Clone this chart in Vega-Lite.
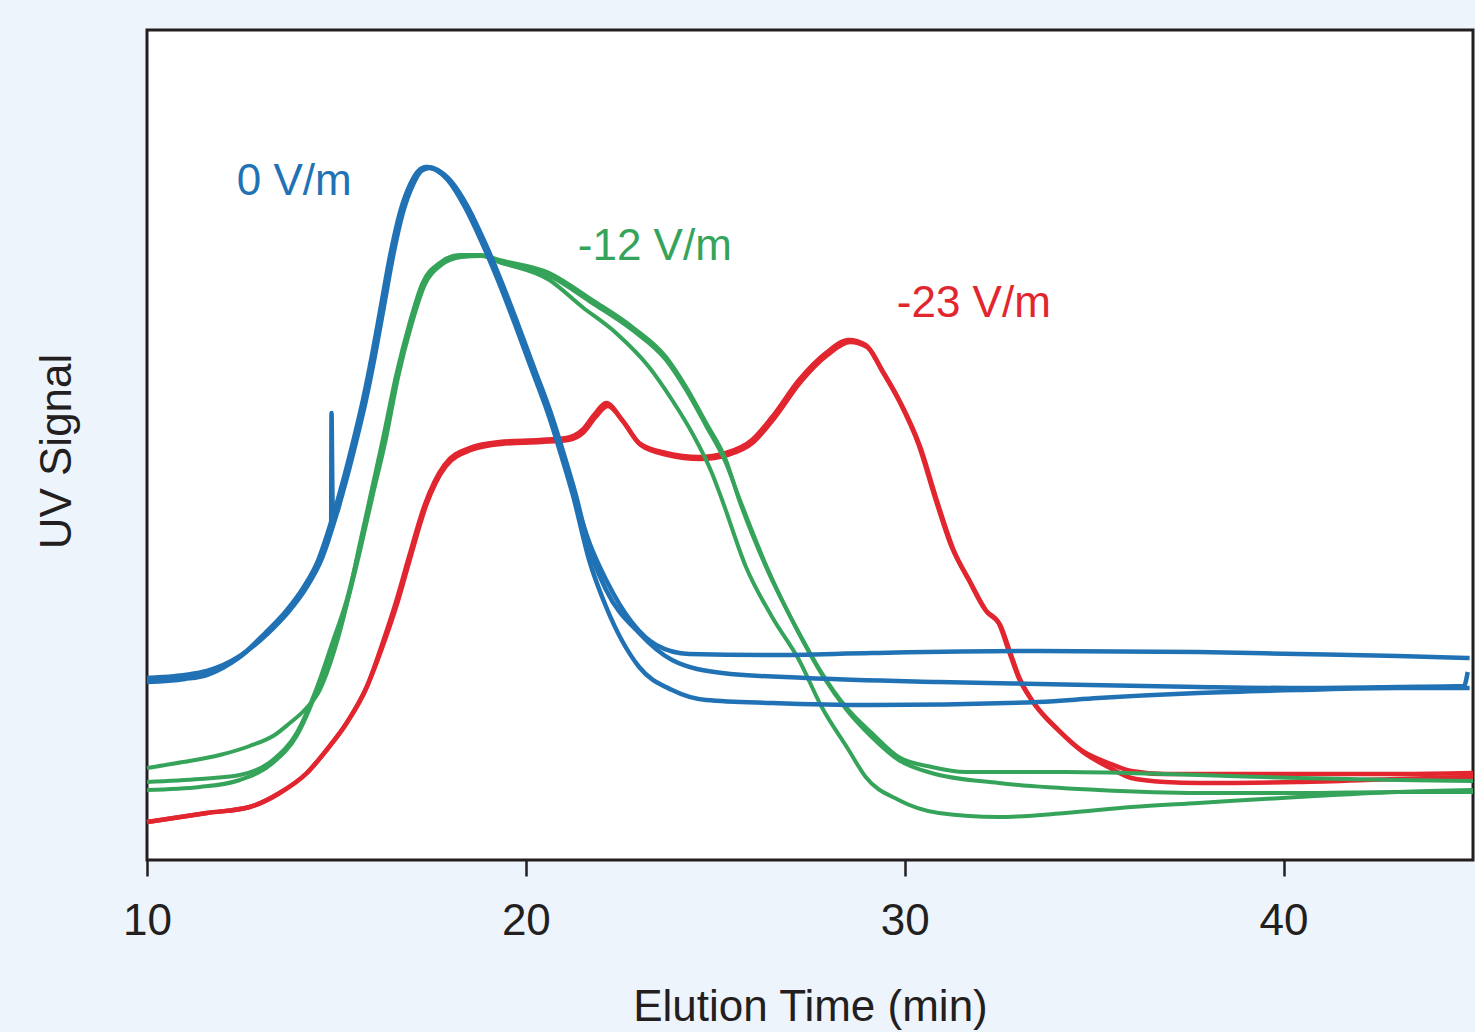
{
"$schema": "https://vega.github.io/schema/vega-lite/v6.json",
"width": 1326, "height": 830,
"autosize": {"type": "none"},
"padding": {"left": 147, "top": 30, "right": 2, "bottom": 172},
"background": "#eef4fb",
"config": {"view": {"fill": "white", "stroke": "#231f20", "strokeWidth": 3}, "font": "Liberation Sans"},
"datasets": {
"traces": [
{"series":"0 V/m","trace":"b1","time":10.00,"signal":18.0},{"series":"0 V/m","trace":"b1","time":11.00,"signal":18.3},{"series":"0 V/m","trace":"b1","time":11.58,"signal":18.7},{"series":"0 V/m","trace":"b1","time":12.45,"signal":20.3},{"series":"0 V/m","trace":"b1","time":13.16,"signal":22.7},{"series":"0 V/m","trace":"b1","time":13.69,"signal":24.8},{"series":"0 V/m","trace":"b1","time":14.16,"signal":27.2},{"series":"0 V/m","trace":"b1","time":14.56,"signal":30.0},{"series":"0 V/m","trace":"b1","time":14.86,"signal":33.3},{"series":"0 V/m","trace":"b1","time":14.87,"signal":44.7},{"series":"0 V/m","trace":"b1","time":14.90,"signal":35.5},{"series":"0 V/m","trace":"b1","time":14.95,"signal":34.4},{"series":"0 V/m","trace":"b1","time":15.22,"signal":38.0},{"series":"0 V/m","trace":"b1","time":15.51,"signal":42.3},{"series":"0 V/m","trace":"b1","time":15.74,"signal":46.0},{"series":"0 V/m","trace":"b1","time":15.98,"signal":50.5},{"series":"0 V/m","trace":"b1","time":16.22,"signal":55.5},{"series":"0 V/m","trace":"b1","time":16.46,"signal":60.5},{"series":"0 V/m","trace":"b1","time":16.72,"signal":64.8},{"series":"0 V/m","trace":"b1","time":16.99,"signal":67.6},{"series":"0 V/m","trace":"b1","time":17.20,"signal":68.9},{"series":"0 V/m","trace":"b1","time":17.41,"signal":69.3},{"series":"0 V/m","trace":"b1","time":17.67,"signal":69.0},{"series":"0 V/m","trace":"b1","time":17.98,"signal":68.0},{"series":"0 V/m","trace":"b1","time":18.43,"signal":65.3},{"series":"0 V/m","trace":"b1","time":18.85,"signal":62.0},{"series":"0 V/m","trace":"b1","time":19.30,"signal":58.0},{"series":"0 V/m","trace":"b1","time":19.74,"signal":53.7},{"series":"0 V/m","trace":"b1","time":20.17,"signal":49.3},{"series":"0 V/m","trace":"b1","time":20.62,"signal":44.7},{"series":"0 V/m","trace":"b1","time":21.01,"signal":40.0},{"series":"0 V/m","trace":"b1","time":21.28,"signal":36.5},{"series":"0 V/m","trace":"b1","time":21.67,"signal":31.8},{"series":"0 V/m","trace":"b1","time":22.12,"signal":28.0},{"series":"0 V/m","trace":"b1","time":22.81,"signal":23.7},{"series":"0 V/m","trace":"b1","time":23.44,"signal":21.5},{"series":"0 V/m","trace":"b1","time":24.31,"signal":20.6},{"series":"0 V/m","trace":"b1","time":26.50,"signal":20.5},{"series":"0 V/m","trace":"b1","time":29.13,"signal":20.7},{"series":"0 V/m","trace":"b1","time":33.53,"signal":20.9},{"series":"0 V/m","trace":"b1","time":37.75,"signal":20.8},{"series":"0 V/m","trace":"b1","time":40.38,"signal":20.6},{"series":"0 V/m","trace":"b1","time":43.02,"signal":20.4},{"series":"0 V/m","trace":"b1","time":44.91,"signal":20.2},

{"series":"0 V/m","trace":"b2","time":10.00,"signal":18.2},{"series":"0 V/m","trace":"b2","time":11.00,"signal":18.5},{"series":"0 V/m","trace":"b2","time":11.58,"signal":18.9},{"series":"0 V/m","trace":"b2","time":12.45,"signal":20.4},{"series":"0 V/m","trace":"b2","time":13.20,"signal":22.7},{"series":"0 V/m","trace":"b2","time":13.73,"signal":24.8},{"series":"0 V/m","trace":"b2","time":14.20,"signal":27.2},{"series":"0 V/m","trace":"b2","time":14.60,"signal":30.0},{"series":"0 V/m","trace":"b2","time":14.94,"signal":33.8},{"series":"0 V/m","trace":"b2","time":15.26,"signal":38.0},{"series":"0 V/m","trace":"b2","time":15.55,"signal":42.3},{"series":"0 V/m","trace":"b2","time":15.78,"signal":46.0},{"series":"0 V/m","trace":"b2","time":16.02,"signal":50.5},{"series":"0 V/m","trace":"b2","time":16.26,"signal":55.5},{"series":"0 V/m","trace":"b2","time":16.50,"signal":60.5},{"series":"0 V/m","trace":"b2","time":16.76,"signal":64.8},{"series":"0 V/m","trace":"b2","time":17.03,"signal":67.6},{"series":"0 V/m","trace":"b2","time":17.24,"signal":68.9},{"series":"0 V/m","trace":"b2","time":17.45,"signal":69.2},{"series":"0 V/m","trace":"b2","time":17.71,"signal":68.9},{"series":"0 V/m","trace":"b2","time":18.02,"signal":67.9},{"series":"0 V/m","trace":"b2","time":18.47,"signal":65.3},{"series":"0 V/m","trace":"b2","time":18.89,"signal":62.0},{"series":"0 V/m","trace":"b2","time":19.34,"signal":58.0},{"series":"0 V/m","trace":"b2","time":19.78,"signal":53.7},{"series":"0 V/m","trace":"b2","time":20.21,"signal":49.3},{"series":"0 V/m","trace":"b2","time":20.66,"signal":44.7},{"series":"0 V/m","trace":"b2","time":21.05,"signal":40.0},{"series":"0 V/m","trace":"b2","time":21.32,"signal":36.5},{"series":"0 V/m","trace":"b2","time":21.67,"signal":31.2},{"series":"0 V/m","trace":"b2","time":22.12,"signal":27.0},{"series":"0 V/m","trace":"b2","time":22.99,"signal":22.7},{"series":"0 V/m","trace":"b2","time":23.86,"signal":20.0},{"series":"0 V/m","trace":"b2","time":25.18,"signal":18.7},{"series":"0 V/m","trace":"b2","time":27.39,"signal":18.2},{"series":"0 V/m","trace":"b2","time":30.90,"signal":17.8},{"series":"0 V/m","trace":"b2","time":33.53,"signal":17.6},{"series":"0 V/m","trace":"b2","time":37.75,"signal":17.3},{"series":"0 V/m","trace":"b2","time":40.38,"signal":17.2},{"series":"0 V/m","trace":"b2","time":43.02,"signal":17.3},{"series":"0 V/m","trace":"b2","time":44.76,"signal":17.4},{"series":"0 V/m","trace":"b2","time":44.86,"signal":18.8},

{"series":"0 V/m","trace":"b3","time":10.00,"signal":17.8},{"series":"0 V/m","trace":"b3","time":11.00,"signal":18.1},{"series":"0 V/m","trace":"b3","time":11.58,"signal":18.5},{"series":"0 V/m","trace":"b3","time":12.41,"signal":20.2},{"series":"0 V/m","trace":"b3","time":13.12,"signal":22.7},{"series":"0 V/m","trace":"b3","time":13.65,"signal":24.8},{"series":"0 V/m","trace":"b3","time":14.12,"signal":27.2},{"series":"0 V/m","trace":"b3","time":14.52,"signal":30.0},{"series":"0 V/m","trace":"b3","time":14.86,"signal":33.8},{"series":"0 V/m","trace":"b3","time":15.18,"signal":38.0},{"series":"0 V/m","trace":"b3","time":15.47,"signal":42.3},{"series":"0 V/m","trace":"b3","time":15.70,"signal":46.0},{"series":"0 V/m","trace":"b3","time":15.94,"signal":50.5},{"series":"0 V/m","trace":"b3","time":16.18,"signal":55.5},{"series":"0 V/m","trace":"b3","time":16.42,"signal":60.5},{"series":"0 V/m","trace":"b3","time":16.68,"signal":64.8},{"series":"0 V/m","trace":"b3","time":16.95,"signal":67.6},{"series":"0 V/m","trace":"b3","time":17.16,"signal":68.9},{"series":"0 V/m","trace":"b3","time":17.37,"signal":69.3},{"series":"0 V/m","trace":"b3","time":17.63,"signal":69.0},{"series":"0 V/m","trace":"b3","time":17.94,"signal":68.0},{"series":"0 V/m","trace":"b3","time":18.39,"signal":65.3},{"series":"0 V/m","trace":"b3","time":18.81,"signal":62.0},{"series":"0 V/m","trace":"b3","time":19.26,"signal":58.0},{"series":"0 V/m","trace":"b3","time":19.70,"signal":53.7},{"series":"0 V/m","trace":"b3","time":20.13,"signal":49.3},{"series":"0 V/m","trace":"b3","time":20.58,"signal":44.7},{"series":"0 V/m","trace":"b3","time":20.97,"signal":40.0},{"series":"0 V/m","trace":"b3","time":21.24,"signal":36.5},{"series":"0 V/m","trace":"b3","time":21.67,"signal":30.0},{"series":"0 V/m","trace":"b3","time":22.12,"signal":25.3},{"series":"0 V/m","trace":"b3","time":22.99,"signal":19.3},{"series":"0 V/m","trace":"b3","time":23.86,"signal":17.0},{"series":"0 V/m","trace":"b3","time":24.76,"signal":16.0},{"series":"0 V/m","trace":"b3","time":26.50,"signal":15.7},{"series":"0 V/m","trace":"b3","time":29.13,"signal":15.5},{"series":"0 V/m","trace":"b3","time":33.53,"signal":15.8},{"series":"0 V/m","trace":"b3","time":35.11,"signal":16.2},{"series":"0 V/m","trace":"b3","time":37.75,"signal":16.7},{"series":"0 V/m","trace":"b3","time":40.38,"signal":17.0},{"series":"0 V/m","trace":"b3","time":43.02,"signal":17.2},{"series":"0 V/m","trace":"b3","time":44.91,"signal":17.2},

{"series":"-12 V/m","trace":"g1","time":10.00,"signal":9.2},{"series":"-12 V/m","trace":"g1","time":10.95,"signal":9.8},{"series":"-12 V/m","trace":"g1","time":11.92,"signal":10.5},{"series":"-12 V/m","trace":"g1","time":12.71,"signal":11.4},{"series":"-12 V/m","trace":"g1","time":13.37,"signal":12.5},{"series":"-12 V/m","trace":"g1","time":13.77,"signal":13.7},{"series":"-12 V/m","trace":"g1","time":14.16,"signal":15.0},{"series":"-12 V/m","trace":"g1","time":14.56,"signal":17.0},{"series":"-12 V/m","trace":"g1","time":14.95,"signal":21.0},{"series":"-12 V/m","trace":"g1","time":15.27,"signal":25.5},{"series":"-12 V/m","trace":"g1","time":15.61,"signal":31.5},{"series":"-12 V/m","trace":"g1","time":15.93,"signal":37.0},{"series":"-12 V/m","trace":"g1","time":16.22,"signal":42.0},{"series":"-12 V/m","trace":"g1","time":16.59,"signal":48.7},{"series":"-12 V/m","trace":"g1","time":16.93,"signal":53.7},{"series":"-12 V/m","trace":"g1","time":17.27,"signal":57.7},{"series":"-12 V/m","trace":"g1","time":17.72,"signal":59.7},{"series":"-12 V/m","trace":"g1","time":18.25,"signal":60.5},{"series":"-12 V/m","trace":"g1","time":18.77,"signal":60.5},{"series":"-12 V/m","trace":"g1","time":19.30,"signal":59.8},{"series":"-12 V/m","trace":"g1","time":20.62,"signal":58.0},{"series":"-12 V/m","trace":"g1","time":21.49,"signal":55.3},{"series":"-12 V/m","trace":"g1","time":22.38,"signal":52.7},{"series":"-12 V/m","trace":"g1","time":23.25,"signal":49.3},{"series":"-12 V/m","trace":"g1","time":23.86,"signal":46.0},{"series":"-12 V/m","trace":"g1","time":24.39,"signal":42.7},{"series":"-12 V/m","trace":"g1","time":24.91,"signal":38.7},{"series":"-12 V/m","trace":"g1","time":25.18,"signal":36.0},{"series":"-12 V/m","trace":"g1","time":25.81,"signal":29.3},{"series":"-12 V/m","trace":"g1","time":26.50,"signal":24.3},{"series":"-12 V/m","trace":"g1","time":27.21,"signal":20.0},{"series":"-12 V/m","trace":"g1","time":27.81,"signal":15.3},{"series":"-12 V/m","trace":"g1","time":28.52,"signal":11.0},{"series":"-12 V/m","trace":"g1","time":28.97,"signal":8.3},{"series":"-12 V/m","trace":"g1","time":29.84,"signal":6.0},{"series":"-12 V/m","trace":"g1","time":30.90,"signal":4.7},{"series":"-12 V/m","trace":"g1","time":32.48,"signal":4.3},{"series":"-12 V/m","trace":"g1","time":34.24,"signal":4.7},{"series":"-12 V/m","trace":"g1","time":35.98,"signal":5.3},{"series":"-12 V/m","trace":"g1","time":37.75,"signal":5.7},{"series":"-12 V/m","trace":"g1","time":40.38,"signal":6.3},{"series":"-12 V/m","trace":"g1","time":43.02,"signal":6.8},{"series":"-12 V/m","trace":"g1","time":45.00,"signal":7.0},

{"series":"-12 V/m","trace":"g2","time":10.00,"signal":7.8},{"series":"-12 V/m","trace":"g2","time":11.40,"signal":8.1},{"series":"-12 V/m","trace":"g2","time":12.45,"signal":8.5},{"series":"-12 V/m","trace":"g2","time":13.32,"signal":10.0},{"series":"-12 V/m","trace":"g2","time":13.95,"signal":12.7},{"series":"-12 V/m","trace":"g2","time":14.48,"signal":17.2},{"series":"-12 V/m","trace":"g2","time":14.90,"signal":21.8},{"series":"-12 V/m","trace":"g2","time":15.27,"signal":26.0},{"series":"-12 V/m","trace":"g2","time":15.61,"signal":31.2},{"series":"-12 V/m","trace":"g2","time":15.93,"signal":36.5},{"series":"-12 V/m","trace":"g2","time":16.27,"signal":42.0},{"series":"-12 V/m","trace":"g2","time":16.61,"signal":48.5},{"series":"-12 V/m","trace":"g2","time":16.96,"signal":53.5},{"series":"-12 V/m","trace":"g2","time":17.30,"signal":57.5},{"series":"-12 V/m","trace":"g2","time":17.75,"signal":59.6},{"series":"-12 V/m","trace":"g2","time":18.27,"signal":60.4},{"series":"-12 V/m","trace":"g2","time":18.80,"signal":60.5},{"series":"-12 V/m","trace":"g2","time":19.30,"signal":60.0},{"series":"-12 V/m","trace":"g2","time":20.62,"signal":58.7},{"series":"-12 V/m","trace":"g2","time":21.75,"signal":56.0},{"series":"-12 V/m","trace":"g2","time":22.81,"signal":53.3},{"series":"-12 V/m","trace":"g2","time":23.70,"signal":50.3},{"series":"-12 V/m","trace":"g2","time":24.23,"signal":47.3},{"series":"-12 V/m","trace":"g2","time":24.76,"signal":43.7},{"series":"-12 V/m","trace":"g2","time":25.28,"signal":40.0},{"series":"-12 V/m","trace":"g2","time":25.63,"signal":36.0},{"series":"-12 V/m","trace":"g2","time":26.34,"signal":29.3},{"series":"-12 V/m","trace":"g2","time":27.21,"signal":22.7},{"series":"-12 V/m","trace":"g2","time":27.81,"signal":18.7},{"series":"-12 V/m","trace":"g2","time":28.45,"signal":15.3},{"series":"-12 V/m","trace":"g2","time":29.13,"signal":12.7},{"series":"-12 V/m","trace":"g2","time":29.84,"signal":10.3},{"series":"-12 V/m","trace":"g2","time":30.71,"signal":9.3},{"series":"-12 V/m","trace":"g2","time":31.61,"signal":8.8},{"series":"-12 V/m","trace":"g2","time":34.24,"signal":8.8},{"series":"-12 V/m","trace":"g2","time":37.75,"signal":8.5},{"series":"-12 V/m","trace":"g2","time":40.38,"signal":8.2},{"series":"-12 V/m","trace":"g2","time":43.02,"signal":8.0},{"series":"-12 V/m","trace":"g2","time":45.00,"signal":7.9},

{"series":"-12 V/m","trace":"g3","time":10.00,"signal":7.0},{"series":"-12 V/m","trace":"g3","time":11.40,"signal":7.3},{"series":"-12 V/m","trace":"g3","time":12.45,"signal":8.0},{"series":"-12 V/m","trace":"g3","time":13.32,"signal":9.7},{"series":"-12 V/m","trace":"g3","time":13.95,"signal":12.4},{"series":"-12 V/m","trace":"g3","time":14.48,"signal":16.9},{"series":"-12 V/m","trace":"g3","time":14.90,"signal":21.5},{"series":"-12 V/m","trace":"g3","time":15.30,"signal":26.0},{"series":"-12 V/m","trace":"g3","time":15.64,"signal":31.2},{"series":"-12 V/m","trace":"g3","time":15.96,"signal":36.5},{"series":"-12 V/m","trace":"g3","time":16.30,"signal":42.0},{"series":"-12 V/m","trace":"g3","time":16.64,"signal":48.5},{"series":"-12 V/m","trace":"g3","time":16.98,"signal":53.5},{"series":"-12 V/m","trace":"g3","time":17.33,"signal":57.5},{"series":"-12 V/m","trace":"g3","time":17.77,"signal":59.5},{"series":"-12 V/m","trace":"g3","time":18.30,"signal":60.3},{"series":"-12 V/m","trace":"g3","time":18.83,"signal":60.4},{"series":"-12 V/m","trace":"g3","time":19.30,"signal":59.8},{"series":"-12 V/m","trace":"g3","time":20.62,"signal":58.4},{"series":"-12 V/m","trace":"g3","time":21.75,"signal":55.7},{"series":"-12 V/m","trace":"g3","time":22.81,"signal":53.0},{"series":"-12 V/m","trace":"g3","time":23.70,"signal":50.0},{"series":"-12 V/m","trace":"g3","time":24.23,"signal":47.0},{"series":"-12 V/m","trace":"g3","time":24.76,"signal":43.4},{"series":"-12 V/m","trace":"g3","time":25.28,"signal":39.7},{"series":"-12 V/m","trace":"g3","time":25.65,"signal":36.0},{"series":"-12 V/m","trace":"g3","time":26.36,"signal":29.3},{"series":"-12 V/m","trace":"g3","time":27.23,"signal":22.5},{"series":"-12 V/m","trace":"g3","time":27.84,"signal":18.4},{"series":"-12 V/m","trace":"g3","time":28.47,"signal":15.0},{"series":"-12 V/m","trace":"g3","time":29.13,"signal":12.3},{"series":"-12 V/m","trace":"g3","time":29.84,"signal":10.0},{"series":"-12 V/m","trace":"g3","time":30.71,"signal":8.7},{"series":"-12 V/m","trace":"g3","time":32.48,"signal":7.7},{"series":"-12 V/m","trace":"g3","time":35.11,"signal":7.0},{"series":"-12 V/m","trace":"g3","time":37.75,"signal":6.7},{"series":"-12 V/m","trace":"g3","time":40.38,"signal":6.7},{"series":"-12 V/m","trace":"g3","time":43.02,"signal":6.8},{"series":"-12 V/m","trace":"g3","time":45.00,"signal":6.8},

{"series":"-23 V/m","trace":"r1","time":10.00,"signal":3.8},{"series":"-23 V/m","trace":"r1","time":11.58,"signal":4.7},{"series":"-23 V/m","trace":"r1","time":12.71,"signal":5.3},{"series":"-23 V/m","trace":"r1","time":13.50,"signal":6.7},{"series":"-23 V/m","trace":"r1","time":14.22,"signal":8.7},{"series":"-23 V/m","trace":"r1","time":14.74,"signal":11.0},{"series":"-23 V/m","trace":"r1","time":15.27,"signal":13.7},{"series":"-23 V/m","trace":"r1","time":15.80,"signal":17.3},{"series":"-23 V/m","trace":"r1","time":16.22,"signal":21.7},{"series":"-23 V/m","trace":"r1","time":16.59,"signal":26.0},{"series":"-23 V/m","trace":"r1","time":16.93,"signal":30.5},{"series":"-23 V/m","trace":"r1","time":17.33,"signal":35.5},{"series":"-23 V/m","trace":"r1","time":17.85,"signal":39.5},{"series":"-23 V/m","trace":"r1","time":18.51,"signal":41.2},{"series":"-23 V/m","trace":"r1","time":19.30,"signal":41.8},{"series":"-23 V/m","trace":"r1","time":20.36,"signal":42.0},{"series":"-23 V/m","trace":"r1","time":21.07,"signal":42.2},{"series":"-23 V/m","trace":"r1","time":21.49,"signal":43.0},{"series":"-23 V/m","trace":"r1","time":21.80,"signal":44.5},{"series":"-23 V/m","trace":"r1","time":22.12,"signal":45.7},{"series":"-23 V/m","trace":"r1","time":22.54,"signal":44.0},{"series":"-23 V/m","trace":"r1","time":22.99,"signal":41.7},{"series":"-23 V/m","trace":"r1","time":23.70,"signal":40.7},{"series":"-23 V/m","trace":"r1","time":24.57,"signal":40.3},{"series":"-23 V/m","trace":"r1","time":25.28,"signal":40.7},{"series":"-23 V/m","trace":"r1","time":25.97,"signal":42.0},{"series":"-23 V/m","trace":"r1","time":26.50,"signal":44.3},{"series":"-23 V/m","trace":"r1","time":27.21,"signal":48.0},{"series":"-23 V/m","trace":"r1","time":27.92,"signal":50.7},{"series":"-23 V/m","trace":"r1","time":28.52,"signal":52.0},{"series":"-23 V/m","trace":"r1","time":28.97,"signal":51.5},{"series":"-23 V/m","trace":"r1","time":29.39,"signal":49.0},{"series":"-23 V/m","trace":"r1","time":29.84,"signal":46.0},{"series":"-23 V/m","trace":"r1","time":30.37,"signal":41.5},{"series":"-23 V/m","trace":"r1","time":30.82,"signal":36.0},{"series":"-23 V/m","trace":"r1","time":31.24,"signal":31.3},{"series":"-23 V/m","trace":"r1","time":31.69,"signal":28.0},{"series":"-23 V/m","trace":"r1","time":32.13,"signal":25.0},{"series":"-23 V/m","trace":"r1","time":32.48,"signal":23.7},{"series":"-23 V/m","trace":"r1","time":32.74,"signal":21.0},{"series":"-23 V/m","trace":"r1","time":33.00,"signal":18.3},{"series":"-23 V/m","trace":"r1","time":33.35,"signal":16.0},{"series":"-23 V/m","trace":"r1","time":34.06,"signal":13.0},{"series":"-23 V/m","trace":"r1","time":34.66,"signal":11.0},{"series":"-23 V/m","trace":"r1","time":35.38,"signal":9.7},{"series":"-23 V/m","trace":"r1","time":35.98,"signal":8.9},{"series":"-23 V/m","trace":"r1","time":36.88,"signal":8.6},{"series":"-23 V/m","trace":"r1","time":37.75,"signal":8.6},{"series":"-23 V/m","trace":"r1","time":40.38,"signal":8.6},{"series":"-23 V/m","trace":"r1","time":43.02,"signal":8.6},{"series":"-23 V/m","trace":"r1","time":45.00,"signal":8.7},

{"series":"-23 V/m","trace":"r2","time":10.00,"signal":3.8},{"series":"-23 V/m","trace":"r2","time":11.58,"signal":4.7},{"series":"-23 V/m","trace":"r2","time":12.71,"signal":5.3},{"series":"-23 V/m","trace":"r2","time":13.50,"signal":6.7},{"series":"-23 V/m","trace":"r2","time":14.22,"signal":8.7},{"series":"-23 V/m","trace":"r2","time":14.74,"signal":11.0},{"series":"-23 V/m","trace":"r2","time":15.27,"signal":13.7},{"series":"-23 V/m","trace":"r2","time":15.80,"signal":17.3},{"series":"-23 V/m","trace":"r2","time":16.25,"signal":21.7},{"series":"-23 V/m","trace":"r2","time":16.63,"signal":26.0},{"series":"-23 V/m","trace":"r2","time":16.97,"signal":30.5},{"series":"-23 V/m","trace":"r2","time":17.37,"signal":35.5},{"series":"-23 V/m","trace":"r2","time":17.89,"signal":39.4},{"series":"-23 V/m","trace":"r2","time":18.55,"signal":41.0},{"series":"-23 V/m","trace":"r2","time":19.34,"signal":41.6},{"series":"-23 V/m","trace":"r2","time":20.40,"signal":41.8},{"series":"-23 V/m","trace":"r2","time":21.11,"signal":42.0},{"series":"-23 V/m","trace":"r2","time":21.53,"signal":42.8},{"series":"-23 V/m","trace":"r2","time":21.84,"signal":44.3},{"series":"-23 V/m","trace":"r2","time":22.16,"signal":45.4},{"series":"-23 V/m","trace":"r2","time":22.58,"signal":43.8},{"series":"-23 V/m","trace":"r2","time":23.03,"signal":41.5},{"series":"-23 V/m","trace":"r2","time":23.74,"signal":40.5},{"series":"-23 V/m","trace":"r2","time":24.61,"signal":40.1},{"series":"-23 V/m","trace":"r2","time":25.32,"signal":40.5},{"series":"-23 V/m","trace":"r2","time":26.01,"signal":41.8},{"series":"-23 V/m","trace":"r2","time":26.54,"signal":44.1},{"series":"-23 V/m","trace":"r2","time":27.25,"signal":47.8},{"series":"-23 V/m","trace":"r2","time":27.96,"signal":50.5},{"series":"-23 V/m","trace":"r2","time":28.56,"signal":51.8},{"series":"-23 V/m","trace":"r2","time":29.01,"signal":51.3},{"series":"-23 V/m","trace":"r2","time":29.43,"signal":48.8},{"series":"-23 V/m","trace":"r2","time":29.88,"signal":45.8},{"series":"-23 V/m","trace":"r2","time":30.41,"signal":41.3},{"series":"-23 V/m","trace":"r2","time":30.86,"signal":35.8},{"series":"-23 V/m","trace":"r2","time":31.28,"signal":31.1},{"series":"-23 V/m","trace":"r2","time":31.73,"signal":27.8},{"series":"-23 V/m","trace":"r2","time":32.17,"signal":24.8},{"series":"-23 V/m","trace":"r2","time":32.52,"signal":23.5},{"series":"-23 V/m","trace":"r2","time":32.78,"signal":20.8},{"series":"-23 V/m","trace":"r2","time":33.04,"signal":18.1},{"series":"-23 V/m","trace":"r2","time":33.39,"signal":15.8},{"series":"-23 V/m","trace":"r2","time":34.10,"signal":12.8},{"series":"-23 V/m","trace":"r2","time":34.70,"signal":10.8},{"series":"-23 V/m","trace":"r2","time":35.42,"signal":9.2},{"series":"-23 V/m","trace":"r2","time":35.98,"signal":8.2},{"series":"-23 V/m","trace":"r2","time":36.88,"signal":7.8},{"series":"-23 V/m","trace":"r2","time":37.75,"signal":7.7},{"series":"-23 V/m","trace":"r2","time":40.38,"signal":7.8},{"series":"-23 V/m","trace":"r2","time":43.02,"signal":8.1},{"series":"-23 V/m","trace":"r2","time":45.00,"signal":8.3}
],
"labels": [
{"series":"0 V/m","time":12.37,"signal":66.5},
{"series":"-12 V/m","time":21.37,"signal":60.0},
{"series":"-23 V/m","time":29.79,"signal":54.3}
]
},
"encoding": {
"x": {"field": "time", "type": "quantitative",
 "scale": {"domain": [10, 45], "nice": false, "zero": false},
 "axis": {"values": [10, 20, 30, 40], "title": "Elution Time (min)", "domain": false, "grid": false,
  "ticks": true, "tickSize": 16, "tickWidth": 2.5, "tickColor": "#231f20", "labelFlush": false,
  "labelFontSize": 44, "labelColor": "#231f20", "labelPadding": 23, "labelFont": "Liberation Sans",
  "titleFontSize": 44, "titleFontWeight": "normal", "titleColor": "#231f20", "titleFont": "Liberation Sans",
  "titleBaseline": "alphabetic", "titleY": 160}},
"y": {"field": "signal", "type": "quantitative",
 "scale": {"domain": [0, 83], "nice": false, "zero": false},
 "axis": {"title": "UV Signal", "domain": false, "grid": false, "ticks": false, "labels": false,
  "titleFontSize": 44, "titleFontWeight": "normal", "titleColor": "#231f20", "titleFont": "Liberation Sans",
  "titleBaseline": "alphabetic", "titleAngle": 270, "titleX": -77, "titleY": 421, "titleAlign": "center"}},
"color": {"field": "series", "type": "nominal",
 "scale": {"domain": ["0 V/m", "-12 V/m", "-23 V/m"], "range": ["#2172b4", "#35a45a", "#e2262f"]},
 "legend": null}
},
"layer": [
{"data": {"name": "traces"}, "transform": [{"filter": "datum.series === '-23 V/m'"}],
 "mark": {"type": "line", "strokeWidth": 4.5, "interpolate": "monotone"},
 "encoding": {"detail": {"field": "trace"}}},
{"data": {"name": "traces"}, "transform": [{"filter": "datum.series === '-12 V/m'"}],
 "mark": {"type": "line", "strokeWidth": 4, "interpolate": "monotone"},
 "encoding": {"detail": {"field": "trace"}}},
{"data": {"name": "traces"}, "transform": [{"filter": "datum.series === '0 V/m'"}],
 "mark": {"type": "line", "strokeWidth": 4.5, "interpolate": "monotone"},
 "encoding": {"detail": {"field": "trace"}}},
{"data": {"name": "labels"},
 "mark": {"type": "text", "align": "left", "baseline": "alphabetic", "fontSize": 44, "font": "Liberation Sans"},
 "encoding": {"text": {"field": "series"}}}
]
}
